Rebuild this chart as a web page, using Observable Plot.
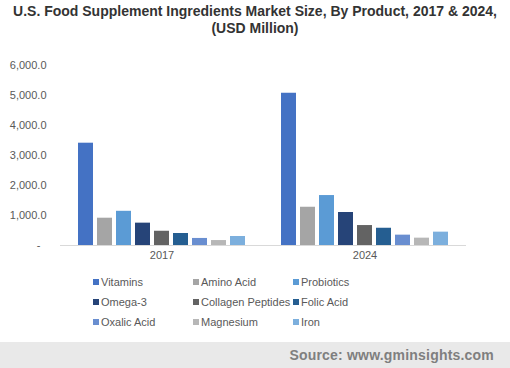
<!DOCTYPE html>
<html>
<head>
<meta charset="utf-8">
<script src="https://cdn.jsdelivr.net/npm/d3@7"></script>
<script src="https://cdn.jsdelivr.net/npm/@observablehq/plot@0.6"></script>
<style>
  html, body { margin: 0; padding: 0; background: #fff; }
  #root { position: relative; width: 510px; height: 368px; overflow: hidden; font-family: "Liberation Sans", Arial, sans-serif; }
  #title { position: absolute; top: 3px; left: 0; width: 510px; text-align: center; font-weight: bold; font-size: 14px; line-height: 17px; color: #333; }
  #chart { position: absolute; top: 50px; left: 0; }
  #legend { position: absolute; top: 0; left: 0; }
  .li { position: absolute; font-size: 11px; color: #595959; white-space: nowrap; height: 14px; line-height: 14px; }
  .sw { display: inline-block; width: 6px; height: 6px; margin-right: 2px; vertical-align: 1px; }
  #footer { position: absolute; left: 0; top: 342px; width: 510px; height: 26px; background: #e9e9e9; }
  #footer span { position: absolute; right: 16px; top: 5px; font-weight: bold; font-size: 14px; letter-spacing: 0.2px; color: #7f7f7f; }
</style>
</head>
<body>
<div id="root">
  <div id="title">U.S. Food Supplement Ingredients Market Size, By Product, 2017 &amp; 2024,<br>(USD Million)</div>
  <div id="chart"></div>
  <div id="legend"></div>
  <div id="footer"><span>Source: www.gminsights.com</span></div>
</div>
<script>
const years = ["2017", "2024"];
const products = ["Vitamins", "Amino Acid", "Probiotics", "Omega-3", "Collagen Peptides", "Folic Acid", "Oxalic Acid", "Magnesium", "Iron"];
const values2017 = [3410, 910, 1140, 745, 475, 400, 235, 165, 300];
const values2024 = [5075, 1275, 1665, 1100, 665, 575, 345, 245, 445];
const colors = ["#4472C4", "#A5A5A5", "#5B9BD5", "#264478", "#636363", "#255E91", "#698ED0", "#B7B7B7", "#7CAFDD"];
const yTicks = [0, 1000, 2000, 3000, 4000, 5000, 6000];

const series = { "2017": values2017, "2024": values2024 };
const data = [];
years.forEach(yr => products.forEach((p, i) => data.push({ year: yr, product: p, value: series[yr][i] })));

const fmt = d3.format(",.1f");
const chart = Plot.plot({
  width: 510,
  height: 220,
  marginTop: 15,
  marginBottom: 25,
  marginLeft: 60,
  marginRight: 44,
  style: { fontFamily: "'Liberation Sans', Arial, sans-serif", fontSize: "11px", color: "#595959", background: "transparent" },
  fx: { domain: years, padding: 0, label: null, axis: "bottom", tickSize: 0, tickPadding: 6 },
  x: { domain: products, axis: null, paddingInner: 0.226, paddingOuter: 0.826 },
  y: { domain: [0, 6000], ticks: yTicks, tickFormat: d => d === 0 ? "-\u00a0\u00a0" : fmt(d), label: null, tickSize: 0, tickPadding: 14 },
  color: { domain: products, range: colors },
  marks: [
    Plot.barY(data, { fx: "year", x: "product", y: "value", fill: "product" }),
    Plot.ruleY([0], { stroke: "#d9d9d9" })
  ]
});
document.getElementById("chart").appendChild(chart);

const legend = document.getElementById("legend");
const colX = [93, 193, 293];
const rowY = [275, 295, 315];
products.forEach((p, i) => {
  const el = document.createElement("div");
  el.className = "li";
  el.style.left = colX[i % 3] + "px";
  el.style.top = rowY[Math.floor(i / 3)] + "px";
  const sw = document.createElement("span");
  sw.className = "sw";
  sw.style.background = colors[i];
  el.appendChild(sw);
  el.appendChild(document.createTextNode(p));
  legend.appendChild(el);
});
</script>
</body>
</html>
